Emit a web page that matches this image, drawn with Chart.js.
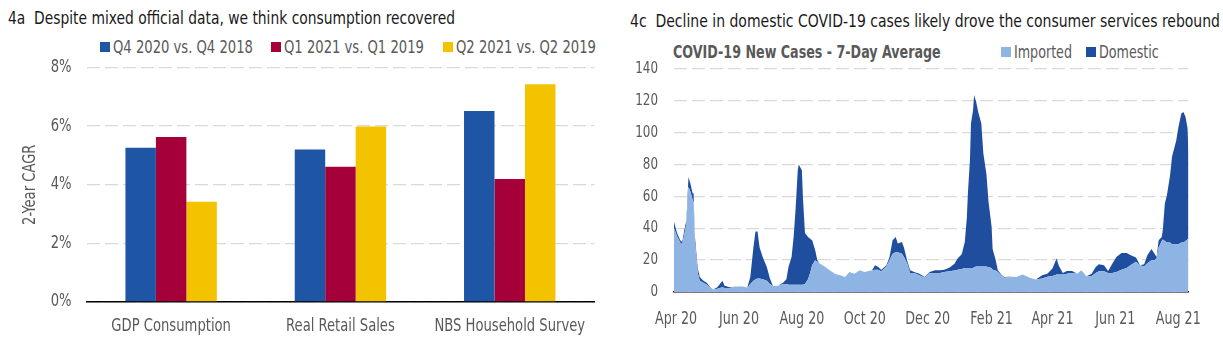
<!DOCTYPE html>
<html><head><meta charset="utf-8">
<script src="https://cdn.jsdelivr.net/npm/chart.js@4.4.1/dist/chart.umd.min.js"></script>
<style>
html,body{margin:0;padding:0;background:#fff;}
body{width:1223px;height:350px;position:relative;overflow:hidden;font-family:'Liberation Sans Narrow','Arial Narrow','DejaVu Sans Condensed',sans-serif;}
.t{position:absolute;white-space:nowrap;line-height:20px;font-size:17px;transform-origin:0 50%;}
.sq{position:absolute;width:10px;height:10px;}
canvas{position:absolute;}
</style>
</head><body>
<div class="t" style="left:8px;top:8px;color:#1a1a1a;transform:scaleX(0.905);">4a&nbsp; Despite mixed official data, we think consumption recovered</div>
<div class="t" style="left:630px;top:11px;color:#1a1a1a;transform:scaleX(0.915);">4c&nbsp; Decline in domestic COVID-19 cases likely drove the consumer services rebound</div>
<div id="leg1"></div>
<div class="t" style="left:673px;top:42px;color:#595959;font-weight:bold;transform:scaleX(0.83);">COVID-19 New Cases - 7-Day Average</div>
<div id="leg2"></div>
<canvas id="c1" width="612" height="310" style="left:0;top:40px;"></canvas>
<canvas id="c2" width="611" height="310" style="left:612px;top:40px;"></canvas>
<script>
const FONT = "'Liberation Sans Narrow', 'Arial Narrow', 'DejaVu Sans Condensed', sans-serif";
const GREY = '#595959';

// ---- Chart 4a data ----
const barCategories = ['GDP Consumption', 'Real Retail Sales', 'NBS Household Survey'];
const barSeriesNames = ['Q4 2020 vs. Q4 2018', 'Q1 2021 vs. Q1 2019', 'Q2 2021 vs. Q2 2019'];
const q4_2020 = [5.26, 5.20, 6.52];
const q1_2021 = [5.63, 4.61, 4.20];
const q2_2021 = [3.42, 5.99, 7.43];
const pctTicks = [0, 2, 4, 6, 8];
const barColors = ['#1F55A5', '#A6003A', '#F4C300'];

// ---- Chart 4c data (7-day average new cases) ----
const caseDates = [
 '2020-03-30','2020-04-02','2020-04-05','2020-04-07','2020-04-09','2020-04-11','2020-04-12','2020-04-13','2020-04-15','2020-04-17',
 '2020-04-18','2020-04-19','2020-04-21','2020-04-22','2020-04-24','2020-04-27','2020-05-01','2020-05-04','2020-05-07','2020-05-11',
 '2020-05-16','2020-05-18','2020-05-23','2020-05-30','2020-06-05','2020-06-09','2020-06-12','2020-06-15','2020-06-17','2020-06-19',
 '2020-06-21','2020-06-24','2020-06-28','2020-07-01','2020-07-04','2020-07-09','2020-07-14','2020-07-17','2020-07-19','2020-07-22',
 '2020-07-24','2020-07-26','2020-07-28','2020-07-29','2020-08-01','2020-08-02','2020-08-04','2020-08-07','2020-08-09','2020-08-11',
 '2020-08-14','2020-08-16','2020-08-18','2020-08-23','2020-08-28','2020-09-02','2020-09-07','2020-09-12','2020-09-16','2020-09-21',
 '2020-09-26','2020-10-01','2020-10-08','2020-10-11','2020-10-14','2020-10-17','2020-10-22','2020-10-25','2020-10-28','2020-10-31',
 '2020-11-02','2020-11-06','2020-11-08','2020-11-11','2020-11-14','2020-11-18','2020-11-23','2020-11-28','2020-12-03','2020-12-08',
 '2020-12-13','2020-12-17','2020-12-22','2020-12-27','2020-12-30','2021-01-03','2021-01-06','2021-01-08','2021-01-09','2021-01-11',
 '2021-01-12','2021-01-14','2021-01-15','2021-01-17','2021-01-19','2021-01-22','2021-01-24','2021-01-27','2021-01-29','2021-02-01',
 '2021-02-02','2021-02-05','2021-02-07','2021-02-11','2021-02-13','2021-02-18','2021-02-25','2021-03-03','2021-03-10','2021-03-16',
 '2021-03-22','2021-03-27','2021-04-01','2021-04-05','2021-04-07','2021-04-11','2021-04-15','2021-04-20','2021-04-25','2021-04-29',
 '2021-05-04','2021-05-09','2021-05-13','2021-05-16','2021-05-21','2021-05-25','2021-05-29','2021-06-02','2021-06-07','2021-06-12',
 '2021-06-16','2021-06-21','2021-06-25','2021-06-29','2021-07-02','2021-07-06','2021-07-09','2021-07-11','2021-07-13','2021-07-16',
 '2021-07-17','2021-07-19','2021-07-21','2021-07-24','2021-07-26','2021-07-30','2021-08-01','2021-08-04','2021-08-06','2021-08-08',
 '2021-08-10','2021-08-11'
];
const imported = [
 40,35,31,30,36,43,54,66,63,58,
 56,33,19,12,7,6,4.5,2.5,1.5,2,
 3,2.5,2.5,3.5,3.5,2.5,5,7,8,8.4,
 8.4,8,7,5,3.8,4,5,5,4.5,4.5,
 4.5,4.5,4.5,4.5,4.5,4.5,5,8,12,17,
 20,19,18,16,13.6,11.5,10.5,9.4,12.6,11.5,
 13.6,12.6,13.6,14,14,13,16,20,24,25,
 25,24,22,18,12,12,10.5,9,12,12,
 12,12.5,13,13.5,14,14.5,15,15,15,15,
 15,15,15.5,16,16,16,16,16,15.5,15,
 14,13.5,12.5,10,9,9.2,9.4,11,9,7.8,
 8.5,9.5,10,11,11,11,11.5,12,11.5,13.6,
 9.9,10,12,13,13,12,12,12.5,14,15,
 17,19,16.8,16,18,20,20,21,28,32,
 33,32,31,31,30,30,30,31,31,32,
 33,34
];
const domestic = [
 4,2,1.5,1.4,3,2,4,6,5,4,
 6,4,3,3,2.4,1.3,1.2,0.5,0,1,
 4,1.5,0.5,0,0,0.2,4.4,21,30,29.6,
 19.6,14,8.7,3.4,0,0,1,3,11.2,17.5,
 30.1,48.5,72,75.5,72,55.5,32,26.6,21.5,15.5,
 6,1,0,0,0,0,0,0,0,0,
 0,0,0,2.8,1.7,1,0.8,2,8.5,9.6,
 5.4,7.4,6,2,1.6,0.6,1,0.4,0.6,1.6,
 1.6,1.5,2.3,4.3,7,9.2,16.4,32,47,68,
 91,99,108.2,103.5,97,90,71,58,41.1,26,
 13,6.5,1.1,0.5,0.4,0.3,0,0,0,0,
 2,2,4.7,10,5.8,1,1.7,1.2,0,0,
 0,1.5,3.7,4.4,3.8,1.2,5.8,9.5,10.5,9.5,
 6,2.6,0,1.4,5,7,4,1,4.5,2.6,
 5.8,23.6,29.8,42,55,65,73,81,82,78,
 70,52
];
const dateTickDates = ['2020-04-01','2020-06-01','2020-08-01','2020-10-01','2020-12-01','2021-02-01','2021-04-01','2021-06-01','2021-08-01'];
const dateTickLabels = ['Apr 20','Jun 20','Aug 20','Oct 20','Dec 20','Feb 21','Apr 21','Jun 21','Aug 21'];
const caseTicks = [0, 20, 40, 60, 80, 100, 120, 140];
const caseColors = ['#8EB4E3', '#1F4E9F'];
const caseSeriesNames = ['Imported', 'Domestic'];

// ---- HTML legends ----
function legend(id, items, f) {
  const el = document.getElementById(id);
  items.forEach(it => {
    const s = document.createElement('div'); s.className = 'sq';
    s.style.left = it.x + 'px'; s.style.top = (it.y - 5) + 'px'; s.style.background = it.color;
    const t = document.createElement('div'); t.className = 't';
    t.style.left = (it.x + 13) + 'px'; t.style.top = (it.y - 10) + 'px'; t.style.color = GREY;
    t.style.transform = 'scaleX(' + f + ')';
    t.textContent = it.text;
    el.appendChild(s); el.appendChild(t);
  });
}
legend('leg1', [
  {x: 100, y: 47, color: barColors[0], text: barSeriesNames[0]},
  {x: 271, y: 47, color: barColors[1], text: barSeriesNames[1]},
  {x: 443, y: 47, color: barColors[2], text: barSeriesNames[2]}
], 0.86);
legend('leg2', [
  {x: 1001, y: 52, color: caseColors[0], text: caseSeriesNames[0]},
  {x: 1086, y: 52, color: caseColors[1], text: caseSeriesNames[1]}
], 0.83);

// narrow-font look for canvas text: draw each string horizontally condensed about its anchor
function condense(canvas, f) {
  const ctx = canvas.getContext('2d');
  const orig = ctx.fillText;
  ctx.fillText = function (text, x, y, mw) {
    this.save(); this.translate(x, y); this.scale(f, 1);
    if (mw === undefined) orig.call(this, text, 0, 0); else orig.call(this, text, 0, 0, mw / f);
    this.restore();
  };
}
const c1 = document.getElementById('c1');
const c2 = document.getElementById('c2');
condense(c1, 0.86);
condense(c2, 0.83);

// ---- Chart 4a ----
new Chart(c1, {
  type: 'bar',
  data: {
    labels: barCategories,
    datasets: [
      {label: barSeriesNames[0], data: q4_2020, backgroundColor: barColors[0]},
      {label: barSeriesNames[1], data: q1_2021, backgroundColor: barColors[1]},
      {label: barSeriesNames[2], data: q2_2021, backgroundColor: barColors[2]}
    ]
  },
  options: {
    responsive: false, animation: false, devicePixelRatio: 1,
    layout: {padding: {top: 27.5, right: 4, left: 0, bottom: 0}},
    plugins: {legend: {display: false}, tooltip: {enabled: false}},
    datasets: {bar: {categoryPercentage: 0.54, barPercentage: 1.0}},
    scales: {
      x: {
        grid: {display: false, drawTicks: false},
        border: {display: true, color: '#000', width: 1.5},
        ticks: {color: GREY, font: {family: FONT, size: 17}, padding: 14, maxRotation: 0, autoSkip: false},
        afterFit(s) { s.height = 48; }
      },
      y: {
        min: 0, max: 8,
        afterBuildTicks(s) { s.ticks = pctTicks.map(v => ({value: v})); },
        ticks: {color: GREY, font: {family: FONT, size: 17}, padding: 15, callback: v => v + '%'},
        grid: {color: '#d9d9d9', lineWidth: 1.3, drawTicks: false},
        border: {display: false, dash: [13, 5]},
        title: {display: true, text: '2-Year CAGR', color: GREY, font: {family: FONT, size: 17}, padding: {top: 20, bottom: 0}},
        afterFit(s) { s.width = 86.5; }
      }
    }
  }
});

// ---- Chart 4c ----
const base = Date.UTC(2020, 3, 1);
const toDay = s => { const p = s.split('-').map(Number); return Math.round((Date.UTC(p[0], p[1] - 1, p[2]) - base) / 86400000); };
const xs = caseDates.map(toDay);
const tickDays = dateTickDates.map(toDay);

new Chart(c2, {
  type: 'line',
  data: {
    datasets: [
      {label: caseSeriesNames[0], data: xs.map((x, i) => ({x, y: imported[i]})), backgroundColor: caseColors[0],
       borderColor: 'rgba(0,0,0,0)', borderWidth: 0, pointRadius: 0, fill: 'origin', tension: 0},
      {label: caseSeriesNames[1], data: xs.map((x, i) => ({x, y: domestic[i]})), backgroundColor: caseColors[1],
       borderColor: 'rgba(0,0,0,0)', borderWidth: 0, pointRadius: 0, fill: '-1', tension: 0}
    ]
  },
  options: {
    responsive: false, animation: false, devicePixelRatio: 1,
    layout: {padding: {top: 29, right: 33, left: 0, bottom: 0}},
    plugins: {legend: {display: false}, tooltip: {enabled: false}},
    scales: {
      x: {
        type: 'linear', min: xs[0], max: xs[xs.length - 1],
        afterBuildTicks(s) { s.ticks = tickDays.map(v => ({value: v})); },
        ticks: {color: GREY, font: {family: FONT, size: 17}, padding: 17, maxRotation: 0, autoSkip: false,
                callback: v => { const i = tickDays.indexOf(v); return i >= 0 ? dateTickLabels[i] : ''; }},
        grid: {display: false, drawTicks: false},
        border: {display: true, color: '#000', width: 1.5},
        afterFit(s) { s.height = 58; }
      },
      y: {
        stacked: true, min: 0, max: 140,
        afterBuildTicks(s) { s.ticks = caseTicks.map(v => ({value: v})); },
        ticks: {color: GREY, font: {family: FONT, size: 16}, padding: 16},
        grid: {color: '#d9d9d9', lineWidth: 1.3, drawTicks: false},
        border: {display: false, dash: [13, 5]},
        afterFit(s) { s.width = 62; }
      }
    }
  }
});
</script>
</body></html>
